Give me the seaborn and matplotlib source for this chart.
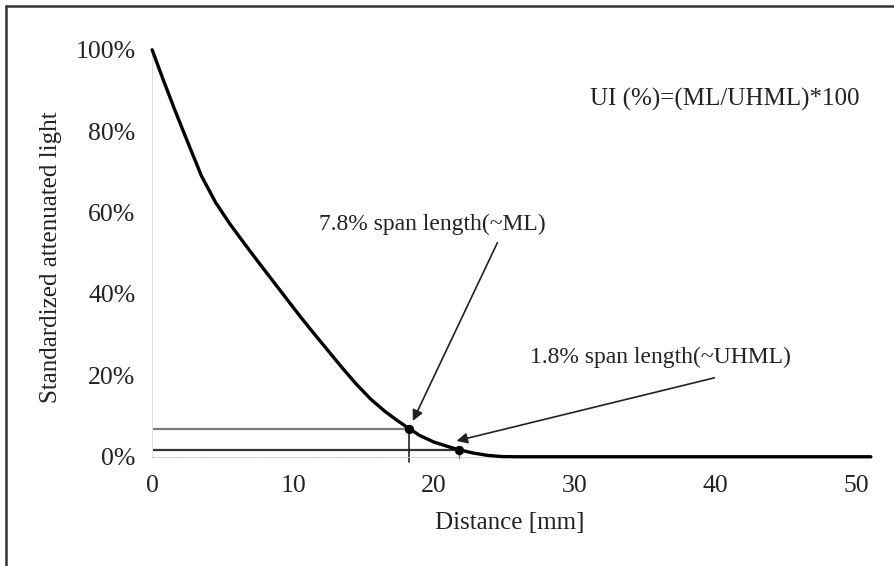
import matplotlib
matplotlib.use("Agg")
import matplotlib.pyplot as plt
from matplotlib.lines import Line2D
import pandas as pd
import seaborn as sns

# attenuation curve
distance_mm = [0, 0.8, 1.6, 2.5, 3.5, 4.5, 5.5, 6.5, 7.5, 8.5, 9.5, 10.5,
               11.5, 12.5, 13.5, 14.5, 15.5, 16.5, 17.4, 18.2, 19.0, 20.0,
               21.0, 21.8, 22.8, 23.8, 24.8, 26, 30, 35, 40, 45, 51]
light_pct = [100, 92.5, 85.3, 77.5, 69.0, 62.5, 57.3, 52.6, 48.0, 43.5, 39.0,
             34.5, 30.2, 26.0, 21.8, 17.8, 14.2, 11.2, 8.9, 7.0, 5.2, 3.6,
             2.5, 1.7, 0.9, 0.35, 0.05, 0.0, 0.0, 0.0, 0.0, 0.0, 0.0]

ml_x, ml_y = 18.2, 6.9
uhml_x, uhml_y = 21.8, 1.7

x_ticks = [0, 10, 20, 30, 40, 50]
y_ticks = [0, 20, 40, 60, 80, 100]
y_labels = ["0%", "20%", "40%", "60%", "80%", "100%"]

df = pd.DataFrame({"distance": distance_mm, "light": light_pct})
pts = pd.DataFrame({"distance": [ml_x, uhml_x], "light": [ml_y, uhml_y]})

sns.set_style("white")
plt.rcParams["font.family"] = ["Liberation Serif", "DejaVu Serif"]
TXT = "#222222"

fig = plt.figure(figsize=(8.95, 5.66), dpi=100)
ax = fig.add_axes([0.170, 0.193, 0.803, 0.719])

# reference lines to the two points
ax.plot([0, ml_x], [ml_y, ml_y], color="#7a7a7a", lw=1.6, zorder=2)
ax.plot([0, uhml_x], [uhml_y, uhml_y], color="#333333", lw=1.6, zorder=2)
ax.plot([ml_x, ml_x], [ml_y, -1.2], color="#222222", lw=1.2, zorder=2, clip_on=False)
ax.plot([uhml_x, uhml_x], [uhml_y, -0.4], color="#555555", lw=1.0, zorder=2, clip_on=False)

sns.lineplot(data=df, x="distance", y="light", color="black", lw=2.4, ax=ax,
             zorder=3, clip_on=False)
sns.scatterplot(data=pts, x="distance", y="light", color="black", s=45, ax=ax,
                zorder=4, edgecolor="black", linewidth=0)

ax.set_xlim(0, 51)
ax.set_ylim(0, 100)
ax.set_xticks(x_ticks)
ax.set_yticks(y_ticks)
ax.set_yticklabels(y_labels)
ax.tick_params(axis="both", length=0, labelsize=18.5, labelcolor=TXT)
ax.tick_params(axis="x", pad=13)
ax.tick_params(axis="y", pad=12)

for side in ["top", "right"]:
    ax.spines[side].set_visible(False)
ax.spines["left"].set_color("#dddddd")
ax.spines["left"].set_linewidth(0.8)
ax.spines["bottom"].set_color("#cccccc")
ax.spines["bottom"].set_linewidth(0.8)
ax.spines["bottom"].set_linestyle((0, (1, 1.5)))

ax.set_xlabel("Distance [mm]", fontsize=18, color=TXT)
ax.set_ylabel("Standardized attenuated light", fontsize=18, color=TXT)
ax.xaxis.set_label_coords(0.498, -0.135)
ax.yaxis.set_label_coords(-0.126, 0.49)

ax.text(40.6, 87.7, "UI (%)=(ML/UHML)*100", fontsize=18, color=TXT,
        ha="center", va="center")

arrow = dict(arrowstyle="-|>", color="#222222", lw=1.2, mutation_scale=16,
             shrinkA=0, shrinkB=0)
ax.annotate("", xy=(18.5, 8.8), xytext=(24.5, 52.6), arrowprops=arrow)
ax.annotate("", xy=(21.6, 3.9), xytext=(39.9, 19.4), arrowprops=arrow)
ax.text(19.9, 57.0, "7.8% span length(~ML)", fontsize=17, color=TXT,
        ha="center", va="center")
ax.text(36.1, 24.3, "1.8% span length(~UHML)", fontsize=17, color=TXT,
        ha="center", va="center")

# frame of the original figure (top and left edges visible)
fig.add_artist(Line2D([6.5 / 895, 1.0], [1 - 5.5 / 566, 1 - 5.5 / 566],
                      transform=fig.transFigure, color="#333333", lw=1.8))
fig.add_artist(Line2D([6.5 / 895, 6.5 / 895], [0.0, 1 - 5.5 / 566],
                      transform=fig.transFigure, color="#333333", lw=1.8))

fig.savefig("out.png", dpi=100)
plt.close(fig)
